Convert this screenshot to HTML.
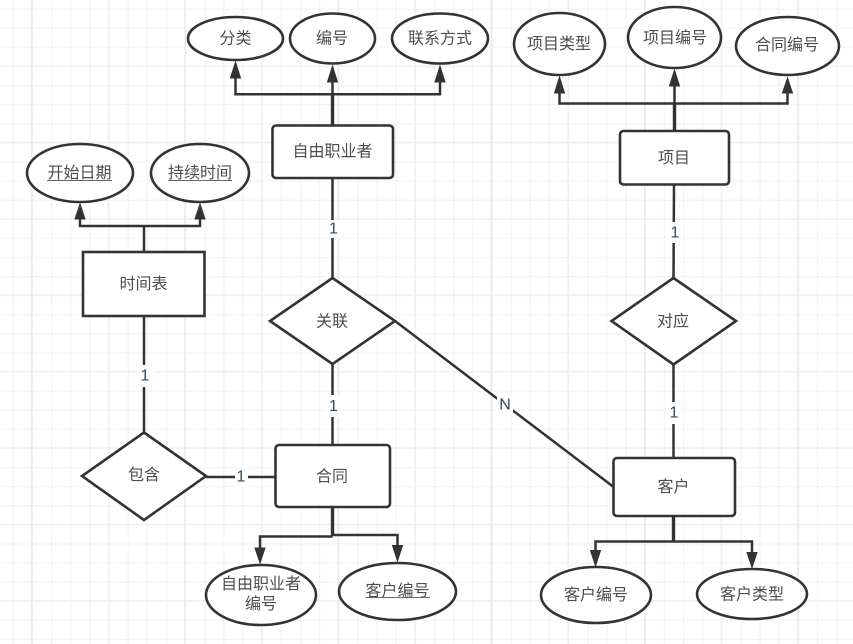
<!DOCTYPE html>
<html lang="zh">
<head>
<meta charset="utf-8">
<style>
html,body{margin:0;padding:0;background:#fff;width:853px;height:644px;overflow:hidden}
svg{display:block}
text{font-family:"Liberation Sans","Noto Sans CJK SC",sans-serif;font-size:16px;fill:#4d4d4d;text-anchor:middle;dominant-baseline:central}
.s{fill:#fff;stroke:#333;stroke-width:2.6}
.c{fill:none;stroke:#333;stroke-width:2.5}
.t{fill:none;stroke:#333;stroke-width:3.4}
.a{fill:#333;stroke:#333;stroke-width:1;stroke-linejoin:miter}
.u{stroke:#666;stroke-width:1}
.l{fill:#fff;stroke:none}
.n{font-size:16px;fill:#2f4a63}
</style>
</head>
<body>
<svg width="853" height="644" viewBox="0 0 853 644" xmlns="http://www.w3.org/2000/svg">
<defs>
<pattern id="gm" x="12.6" y="8.5" width="19.15" height="19.1" patternUnits="userSpaceOnUse">
<rect x="0" y="0" width="19.15" height="1.3" fill="#f4f4f4"/>
<rect x="0" y="0" width="1.3" height="19.1" fill="#f4f4f4"/>
</pattern>
<pattern id="gM" x="31.2" y="65.3" width="76.6" height="76.4" patternUnits="userSpaceOnUse">
<rect x="0" y="0" width="76.6" height="1.3" fill="#efefef"/>
<rect x="0" y="0" width="1.3" height="76.4" fill="#efefef"/>
</pattern>
<pattern id="gV" x="31.2" y="0" width="153.2" height="644" patternUnits="userSpaceOnUse">
<rect x="0" y="0" width="1.3" height="644" fill="#e8e8e8"/>
</pattern>
</defs>
<rect width="853" height="644" fill="#fff"/>
<rect width="853" height="644" fill="url(#gm)"/>
<rect width="853" height="644" fill="url(#gM)"/>
<rect width="853" height="644" fill="url(#gV)"/>

<!-- connectors -->
<path class="c" d="M332.5 94.3H235.5V78"/>
<path class="c" d="M332.5 94.3H440V82"/>
<path class="t" d="M332.5 125V94"/>
<path class="c" d="M332.5 94V82"/>
<polygon class="a" points="235.5,62 230.500,78 240.500,78"/>
<polygon class="a" points="332.5,66 327.500,82 337.500,82"/>
<polygon class="a" points="440,66 435,82 445,82"/>

<path class="c" d="M674.500 103.500H559.500V93"/>
<path class="c" d="M674.500 103.500H787.500V93"/>
<path class="t" d="M674.500 131V103"/>
<path class="c" d="M674.500 103V86"/>
<polygon class="a" points="559.500,77 554.500,93 564.500,93"/>
<polygon class="a" points="674.500,70 669.500,86 679.500,86"/>
<polygon class="a" points="787.500,78 782.500,93 792.500,93"/>

<path class="c" d="M144 252V226M80 219V226H200V219"/>
<polygon class="a" points="80,204 75,219 85,219"/>
<polygon class="a" points="200,204 195,219 205,219"/>

<path class="t" d="M332.500 507V536"/>
<path class="c" d="M332.500 536.500H260V548"/>
<path class="c" d="M332.500 535H397.500V545"/>
<polygon class="a" points="260,563 255,548 265,548"/>
<polygon class="a" points="397.500,561 392.500,545.500 402.500,545.500"/>

<path class="t" d="M673.500 516V541"/>
<path class="c" d="M673.500 541.500H595.500V550M673.500 541.500H752V552"/>
<polygon class="a" points="595.500,566 590.500,550.500 600.500,550.500"/>
<polygon class="a" points="752,567.500 747,552.500 757,552.500"/>

<path class="c" d="M332.500 178V278"/>
<path class="c" d="M674 185L673.500 278"/>
<path class="c" d="M144 316V432.500"/>
<path class="c" d="M332.500 364V445"/>
<path class="c" d="M206 477H275"/>
<path class="c" d="M395 321L613 486.500"/>
<path class="c" d="M673.500 364.500V458"/>

<rect class="l" x="325" y="220" width="16" height="18"/>
<rect class="l" x="667" y="222" width="16" height="21"/>
<rect class="l" x="137" y="365" width="16" height="22"/>
<rect class="l" x="325" y="395" width="16" height="22"/>
<rect class="l" x="235" y="466" width="13" height="21"/>
<rect class="l" x="497" y="396" width="16" height="18"/>
<rect class="l" x="666" y="402" width="16" height="22"/>
<text class="n" x="333.500" y="229">1</text>
<text class="n" x="675" y="233">1</text>
<text class="n" x="145" y="376">1</text>
<text class="n" x="333.500" y="406.500">1</text>
<text class="n" x="241" y="477">1</text>
<text class="n" x="505" y="405">N</text>
<text class="n" x="674" y="413">1</text>

<!-- ellipses -->
<ellipse class="s" cx="235.500" cy="38.500" rx="47.500" ry="21.500"/>
<ellipse class="s" cx="332.500" cy="38.500" rx="42.500" ry="25"/>
<ellipse class="s" cx="440" cy="38.500" rx="48" ry="25"/>
<ellipse class="s" cx="559.500" cy="44" rx="45.500" ry="31"/>
<ellipse class="s" cx="674.500" cy="37.500" rx="46.500" ry="30.500"/>
<ellipse class="s" cx="787.500" cy="46" rx="51.500" ry="29"/>
<ellipse class="s" cx="80" cy="173" rx="53" ry="29"/>
<ellipse class="s" cx="200" cy="173" rx="49" ry="29"/>
<ellipse class="s" cx="261" cy="595" rx="55" ry="30"/>
<ellipse class="s" cx="397.500" cy="591.500" rx="58.500" ry="28.500"/>
<ellipse class="s" cx="596" cy="595" rx="55" ry="28"/>
<ellipse class="s" cx="752" cy="594" rx="55" ry="25"/>

<!-- rectangles -->
<rect class="s" x="83" y="252" width="121.500" height="64"/>
<rect class="s" x="272.500" y="125.500" width="120.500" height="52.500" rx="3.500"/>
<rect class="s" x="620" y="131" width="109" height="53.500" rx="3.500"/>
<rect class="s" x="275.500" y="445" width="114.500" height="62" rx="3.500"/>
<rect class="s" x="613.500" y="458" width="121.500" height="58" rx="3.500"/>

<!-- diamonds -->
<polygon class="s" points="332.500,278 395,321 332.500,364 270,321"/>
<polygon class="s" points="673.500,278 736,321 673.500,364.500 611.500,321"/>
<polygon class="s" points="144,432.500 206,476 144,520 82,476"/>

<!-- underlines -->
<line class="u" x1="47" x2="112" y1="180.500" y2="180.500"/>
<line class="u" x1="168" x2="232" y1="180.500" y2="180.500"/>
<line class="u" x1="365.500" x2="430" y1="597.500" y2="597.500"/>

<!-- labels -->
<g transform="translate(0,1)">
<text x="235.500" y="38">分类</text>
<text x="332" y="38">编号</text>
<text x="440" y="38">联系方式</text>
<text x="559" y="43.500">项目类型</text>
<text x="675" y="37.500">项目编号</text>
<text x="787" y="44.500">合同编号</text>
<text x="79.500" y="172.500">开始日期</text>
<text x="200" y="172.500">持续时间</text>
<text x="143.500" y="283.500">时间表</text>
<text x="332.500" y="151">自由职业者</text>
<text x="674" y="157.500">项目</text>
<text x="332" y="321">关联</text>
<text x="673" y="321">对应</text>
<text x="144" y="474.500">包含</text>
<text x="332" y="476">合同</text>
<text x="673.500" y="486.500">客户</text>
<text x="261" y="583.500">自由职业者</text>
<text x="261" y="603.500">编号</text>
<text x="397.500" y="590.500">客户编号</text>
<text x="596" y="594.500">客户编号</text>
<text x="752" y="594">客户类型</text>
</g>
</svg>
</body>
</html>
